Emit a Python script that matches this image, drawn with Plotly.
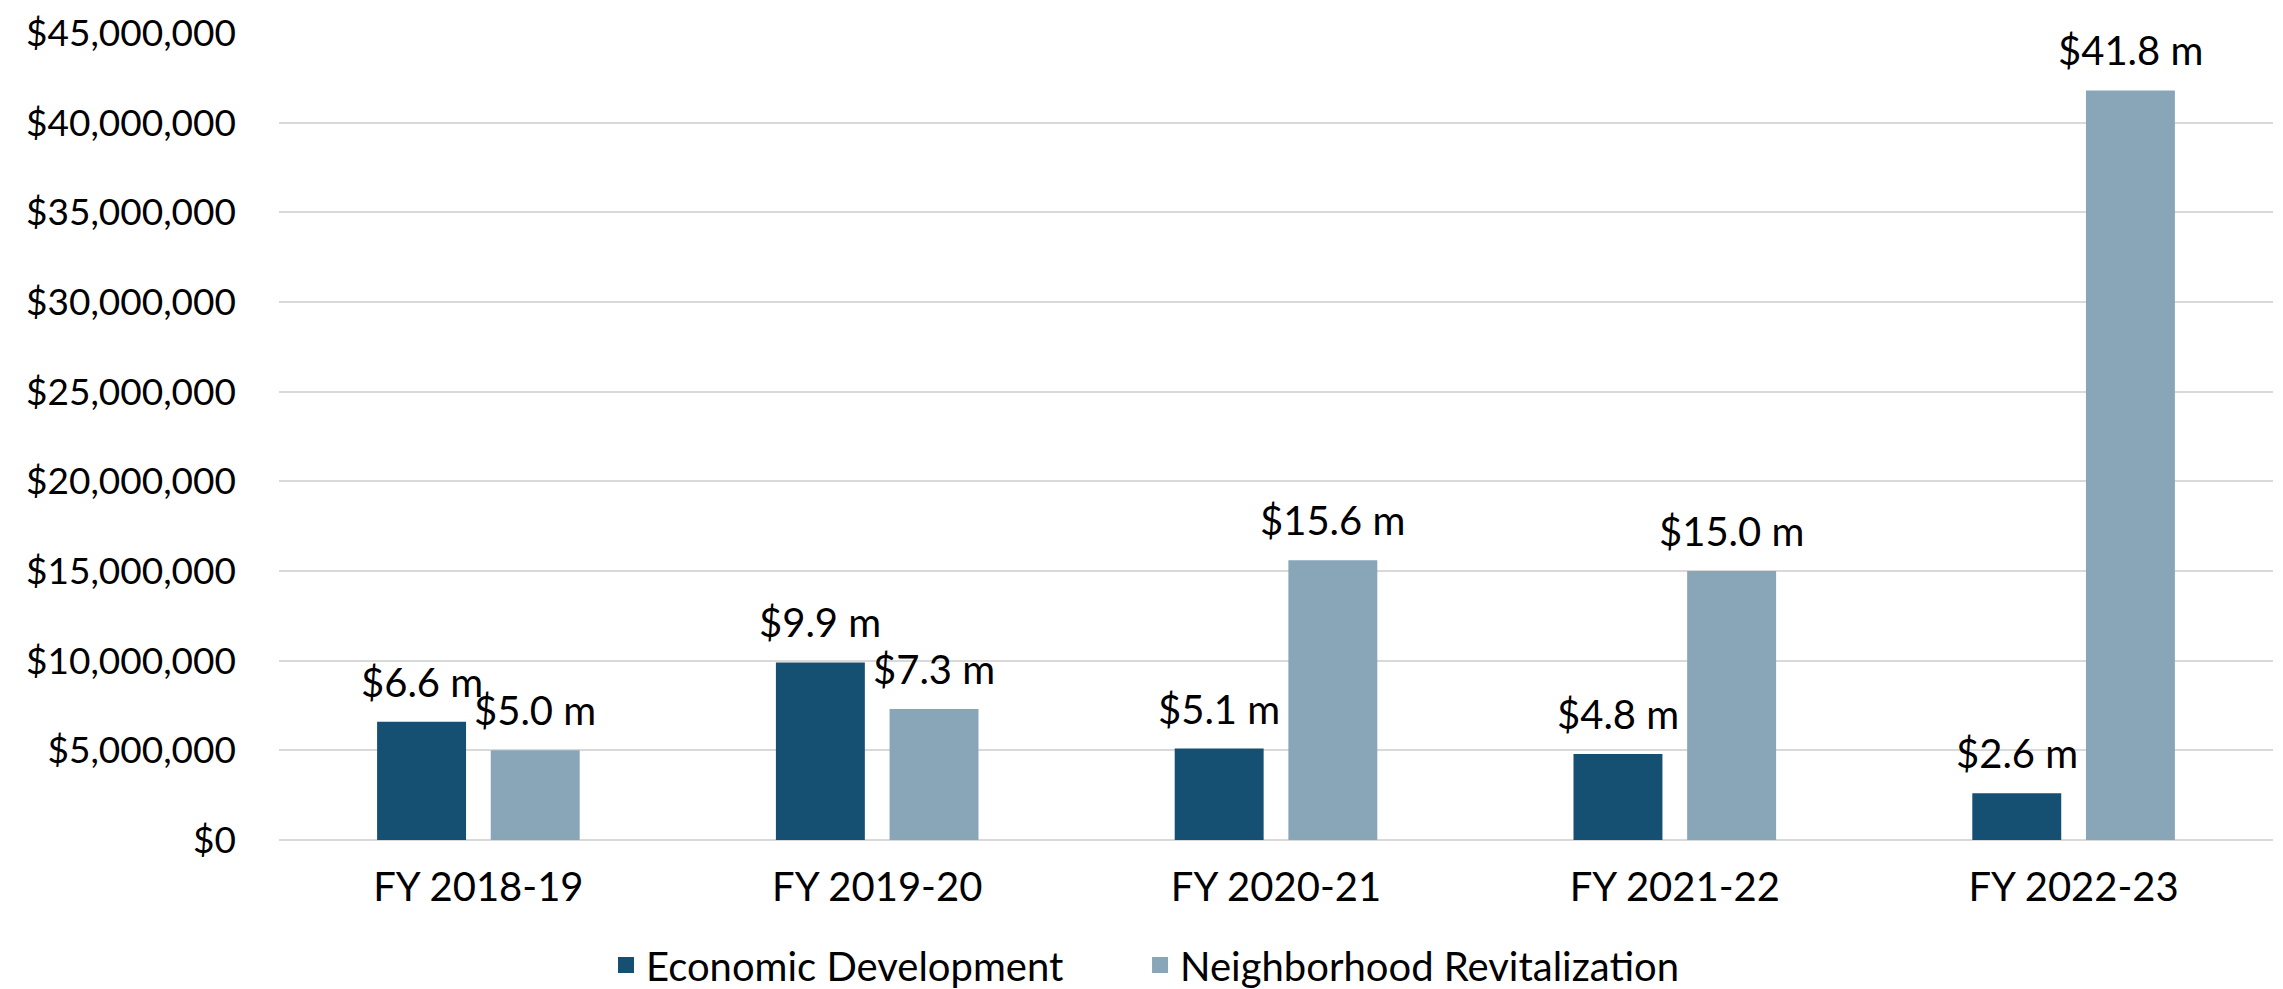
import plotly.graph_objects as go

categories = ["FY 2018-19", "FY 2019-20", "FY 2020-21", "FY 2021-22", "FY 2022-23"]
econ_dev = [6.6e6, 9.9e6, 5.1e6, 4.8e6, 2.6e6]
neigh_rev = [5.0e6, 7.3e6, 15.6e6, 15.0e6, 41.8e6]
series_names = ["Economic Development", "Neighborhood Revitalization"]
colors = ["#154f72", "#88a6b8"]
y_ticks = list(range(0, 45000001, 5000000))
y_tick_labels = ["$0"] + ["${:,.0f}".format(v) for v in y_ticks[1:]]

FONT = "Lato"
FS = 40
FS_Y = 37
BARGAP = 0.43
GROUPGAP = 0.2175

fig = go.Figure()
for name, vals, col in zip(series_names, [econ_dev, neigh_rev], colors):
    fig.add_trace(go.Bar(
        x=categories, y=vals, name=name, showlegend=False,
        marker=dict(color=col, line=dict(width=0)),
    ))

# legend entries with larger square swatches
legend_labels = ["Economic Development\u00a0\u00a0\u00a0\u00a0\u00a0\u00a0\u00a0", "Neighborhood Revitalization"]
for name, col in zip(legend_labels, colors):
    fig.add_trace(go.Scatter(
        x=[None], y=[None], mode="markers", name=name,
        marker=dict(symbol="square", size=22, color=col),
    ))

# value labels above bars, placed at the grouped-bar centres
slot = (1 - BARGAP) / 2
offsets = [-slot / 2, slot / 2]
for k, vals in enumerate([econ_dev, neigh_rev]):
    for i, v in enumerate(vals):
        fig.add_annotation(
            x=i + offsets[k], y=v, xref="x", yref="y",
            text="${:.1f} m".format(v / 1e6),
            showarrow=False, yanchor="bottom", yshift=14,
            font=dict(family=FONT, size=FS, color="#000000"),
        )

fig.update_layout(
    width=2275, height=981,
    barmode="group", bargap=BARGAP, bargroupgap=GROUPGAP,
    plot_bgcolor="#ffffff", paper_bgcolor="#ffffff",
    margin=dict(l=271, r=10, t=25, b=149, autoexpand=False),
    font=dict(family=FONT, size=FS, color="#000000"),
    showlegend=True,
    legend=dict(
        orientation="h", xref="container", yref="container",
        x=0.5, xanchor="center", y=0.0245, yanchor="middle",
        font=dict(family=FONT, size=FS, color="#000000"),
        itemwidth=30, itemsizing="trace", tracegroupgap=0,
    ),
    xaxis=dict(
        type="category", showgrid=False, zeroline=False, showline=False,
        automargin=False,
        ticks="", ticklabelstandoff=20,
        tickfont=dict(family=FONT, size=FS, color="#000000"),
    ),
    yaxis=dict(
        range=[0, 45000000], tickvals=y_ticks, ticktext=y_tick_labels,
        ticklabeloverflow="allow", automargin=False,
        showgrid=True, gridcolor="#d9d9d9", gridwidth=2,
        zeroline=True, zerolinecolor="#d9d9d9", zerolinewidth=2,
        showline=False, ticks="", ticklabelstandoff=42,
        tickfont=dict(family=FONT, size=FS_Y, color="#000000"),
    ),
)

fig.write_html("out.html")
